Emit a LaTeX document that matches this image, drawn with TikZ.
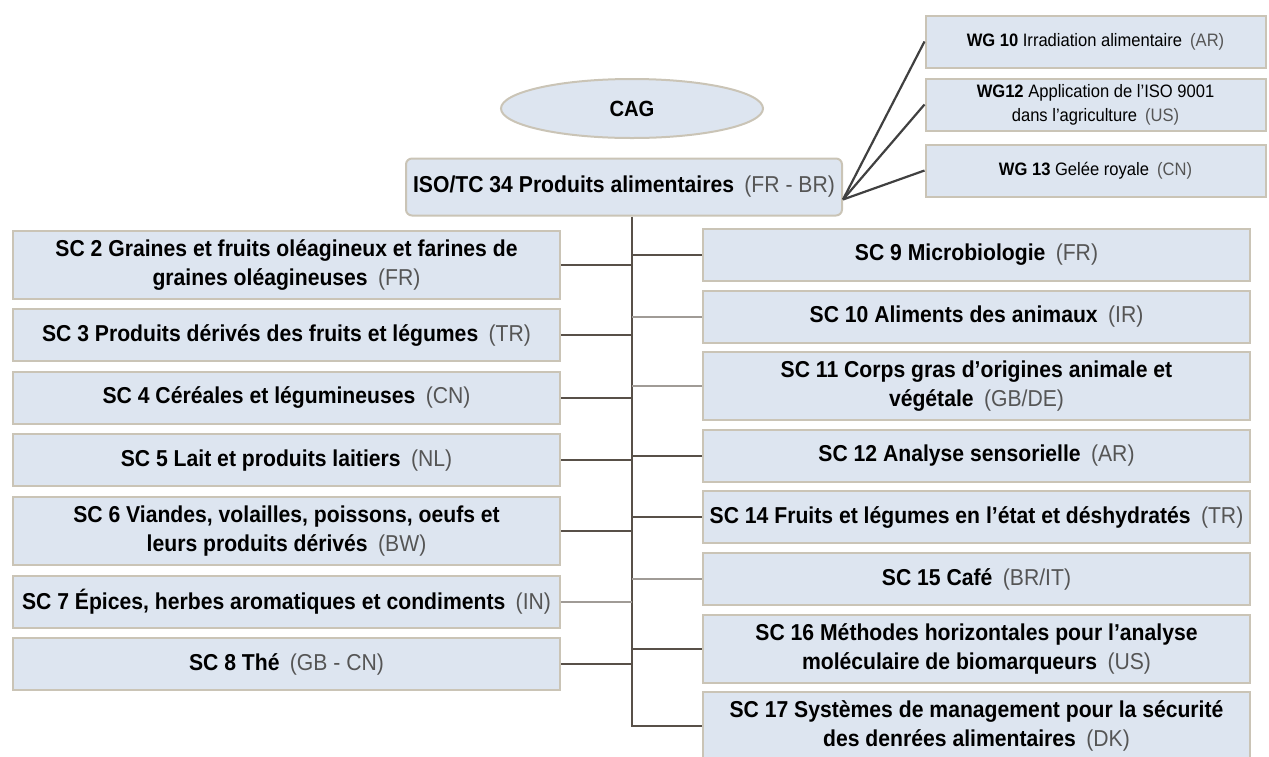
\documentclass[tikz,border=0pt]{standalone}
\usepackage{fontspec}
\setmainfont{Liberation Sans}[FakeStretch=0.92]
\usepackage{tikz}
\usetikzlibrary{shapes.geometric, positioning, calc}
\definecolor{boxBlue}{RGB}{221,229,240}
\definecolor{boxEdge}{RGB}{202,196,182}
\definecolor{linkBrown}{RGB}{88,80,72}
\definecolor{linkGray}{RGB}{160,155,150}
\definecolor{codeGray}{RGB}{85,85,85}
\newcommand{\ctry}[1]{{\mdseries\color{codeGray}\hspace{0.45em}(#1)}}

\begin{document}
\begin{tikzpicture}[
  x=0.5pt, y=-0.5pt,
  node distance=3.8pt,
  scbox/.style={rectangle, draw=boxEdge, line width=1pt, fill=boxBlue, minimum width=273.5pt, minimum height=26pt, align=center, inner sep=1pt, font=\fontsize{11.5}{14.5}\selectfont\bfseries},
  tall/.style={minimum height=34pt},
  wgbox/.style={scbox, minimum width=170pt, font=\fontsize{9}{12}\selectfont},
  tcbox/.style={scbox, rounded corners=3pt, minimum width=218pt, minimum height=28.5pt},
  cagbox/.style={ellipse, draw=boxEdge, line width=1pt, fill=boxBlue, minimum width=131pt, minimum height=29.5pt, font=\fontsize{11}{12}\selectfont\bfseries},
  link/.style={draw=linkBrown, line width=1pt},
  linklight/.style={draw=linkGray, line width=1pt},
  wglink/.style={draw=black!75, line width=1.1pt}
]
  \useasboundingbox (0,0) rectangle (1269,756);

  % top of the tree
  \node[cagbox] (cag) at (632,108.5) {CAG};
  \node[tcbox] (iso) at (624,187) {ISO/TC 34 Produits alimentaires\ctry{FR - BR}};

  % working groups
  \node[wgbox] (wg10) at (1095.5,41.5) {\textbf{WG 10} Irradiation alimentaire\ctry{AR}};
  \node[wgbox, below=4.5pt of wg10] (wg12) {\textbf{WG12} Application de l'ISO 9001\\dans l'agriculture\ctry{US}};
  \node[wgbox, below=6pt of wg12] (wg13) {\textbf{WG 13} Gelée royale\ctry{CN}};

  % sub-committees, left column
  \node[scbox, tall] (sc2) at (286.5,264.5) {SC 2 Graines et fruits oléagineux et farines de\\graines oléagineuses\ctry{FR}};
  \node[scbox, below=4.3pt of sc2] (sc3) {SC 3 Produits dérivés des fruits et légumes\ctry{TR}};
  \node[scbox, below=4.3pt of sc3] (sc4) {SC 4 Céréales et légumineuses\ctry{CN}};
  \node[scbox, below=4.3pt of sc4] (sc5) {SC 5 Lait et produits laitiers\ctry{NL}};
  \node[scbox, tall, below=4.3pt of sc5] (sc6) {SC 6 Viandes, volailles, poissons, oeufs et\\leurs produits dérivés\ctry{BW}};
  \node[scbox, below=4.3pt of sc6] (sc7) {SC 7 Épices, herbes aromatiques et condiments\ctry{IN}};
  \node[scbox, below=4.3pt of sc7] (sc8) {SC 8 Thé\ctry{GB - CN}};

  % sub-committees, right column
  \node[scbox] (sc9) at (976.5,255) {SC 9 Microbiologie\ctry{FR}};
  \node[scbox, below=of sc9] (sc10) {SC 10 Aliments des animaux\ctry{IR}};
  \node[scbox, tall, below=of sc10] (sc11) {SC 11 Corps gras d’origines animale et\\végétale\ctry{GB/DE}};
  \node[scbox, below=of sc11] (sc12) {SC 12 Analyse sensorielle\ctry{AR}};
  \node[scbox, below=of sc12] (sc14) {SC 14 Fruits et légumes en l’état et déshydratés\ctry{TR}};
  \node[scbox, below=of sc14] (sc15) {SC 15 Café\ctry{BR/IT}};
  \node[scbox, tall, below=of sc15] (sc16) {SC 16 Méthodes horizontales pour l’analyse\\moléculaire de biomarqueurs\ctry{US}};
  \node[scbox, tall, below=of sc16] (sc17) {SC 17 Systèmes de management pour la sécurité\\des denrées alimentaires\ctry{DK}};

  % connectors
  \coordinate (hub) at ($(iso.south east)+(0,-17)$);
  \draw[wglink] (hub) -- (wg10.west);
  \draw[wglink] (hub) -- (wg12.west);
  \draw[wglink] (hub) -- (wg13.west);

  \draw[link] (iso.south -| cag) -- (cag |- sc17.west) -- (sc17.west);
  \foreach \sc in {sc2,sc3,sc4,sc5,sc6,sc8}
    \draw[link] (\sc.east) -- (\sc.east -| cag);
  \draw[linklight] (sc7.east) -- (sc7.east -| cag);
  \foreach \sc in {sc9,sc12,sc14,sc16}
    \draw[link] (\sc.west) -- (\sc.west -| cag);
  \foreach \sc in {sc10,sc11,sc15}
    \draw[linklight] (\sc.west) -- (\sc.west -| cag);
\end{tikzpicture}
\end{document}
